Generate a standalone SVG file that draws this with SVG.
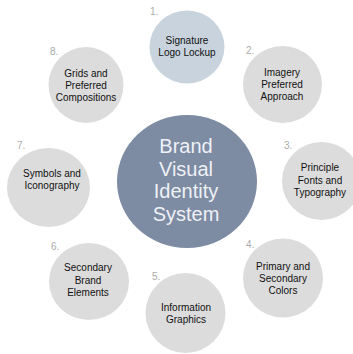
<svg xmlns="http://www.w3.org/2000/svg" width="353" height="354" viewBox="0 0 353 354">
<style>
.bg{fill:#ffffff}
.sat{fill:#dcdcdc}
.sig{fill:#c8d3de}
.core{fill:#7d8ba3}
.t{font-family:"Liberation Sans",Arial,sans-serif;font-size:10px;fill:#111111;text-anchor:middle}
.n{font-family:"Liberation Sans",Arial,sans-serif;font-size:10px;fill:#ababab}
.c{font-family:"Liberation Sans",Arial,sans-serif;font-size:20px;fill:#eef1f5;text-anchor:middle}
</style>
<rect class="bg" x="0" y="0" width="353" height="354"/>
<g id="connectors"></g>
<g id="center">
<ellipse class="core" cx="187" cy="181.5" rx="70" ry="66.5"/>
<text class="c" x="186" y="153">Brand</text>
<text class="c" x="186" y="175.5">Visual</text>
<text class="c" x="186" y="198">Identity</text>
<text class="c" x="186" y="220.5">System</text>
</g>
<g id="node1">
<ellipse class="sig" cx="187" cy="47" rx="37.5" ry="36.5"/>
<text class="n" x="150" y="15">1.</text>
<text class="t" x="187" y="44">Signature</text>
<text class="t" x="187" y="56">Logo Lockup</text>
</g>
<g id="node2">
<ellipse class="sat" cx="282.5" cy="84.5" rx="39.5" ry="38.5"/>
<text class="n" x="246" y="54">2.</text>
<text class="t" x="282" y="76">Imagery</text>
<text class="t" x="282" y="88">Preferred</text>
<text class="t" x="282" y="100">Approach</text>
</g>
<g id="node3">
<ellipse class="sat" cx="321.5" cy="181" rx="39.5" ry="39"/>
<text class="n" x="284" y="149">3.</text>
<text class="t" x="320" y="171">Principle</text>
<text class="t" x="320" y="184">Fonts and</text>
<text class="t" x="320" y="196">Typography</text>
</g>
<g id="node4">
<ellipse class="sat" cx="283" cy="278" rx="40" ry="39.5"/>
<text class="n" x="246" y="248">4.</text>
<text class="t" x="283" y="270">Primary and</text>
<text class="t" x="283" y="282">Secondary</text>
<text class="t" x="283" y="294">Colors</text>
</g>
<g id="node5">
<ellipse class="sat" cx="185.5" cy="313" rx="40" ry="40"/>
<text class="n" x="152" y="280">5.</text>
<text class="t" x="186" y="311">Information</text>
<text class="t" x="186" y="323">Graphics</text>
</g>
<g id="node6">
<ellipse class="sat" cx="89" cy="281.5" rx="40" ry="38.5"/>
<text class="n" x="51" y="250">6.</text>
<text class="t" x="88" y="271">Secondary</text>
<text class="t" x="88" y="284">Brand</text>
<text class="t" x="88" y="296">Elements</text>
</g>
<g id="node7">
<ellipse class="sat" cx="48.5" cy="187.5" rx="41.5" ry="39.5"/>
<text class="n" x="17" y="149">7.</text>
<text class="t" x="52" y="177">Symbols and</text>
<text class="t" x="52" y="189">Iconography</text>
</g>
<g id="node8">
<ellipse class="sat" cx="86" cy="85" rx="37.5" ry="38"/>
<text class="n" x="50" y="55">8.</text>
<text class="t" x="86" y="77">Grids and</text>
<text class="t" x="86" y="89">Preferred</text>
<text class="t" x="86" y="101">Compositions</text>
</g>
</svg>
